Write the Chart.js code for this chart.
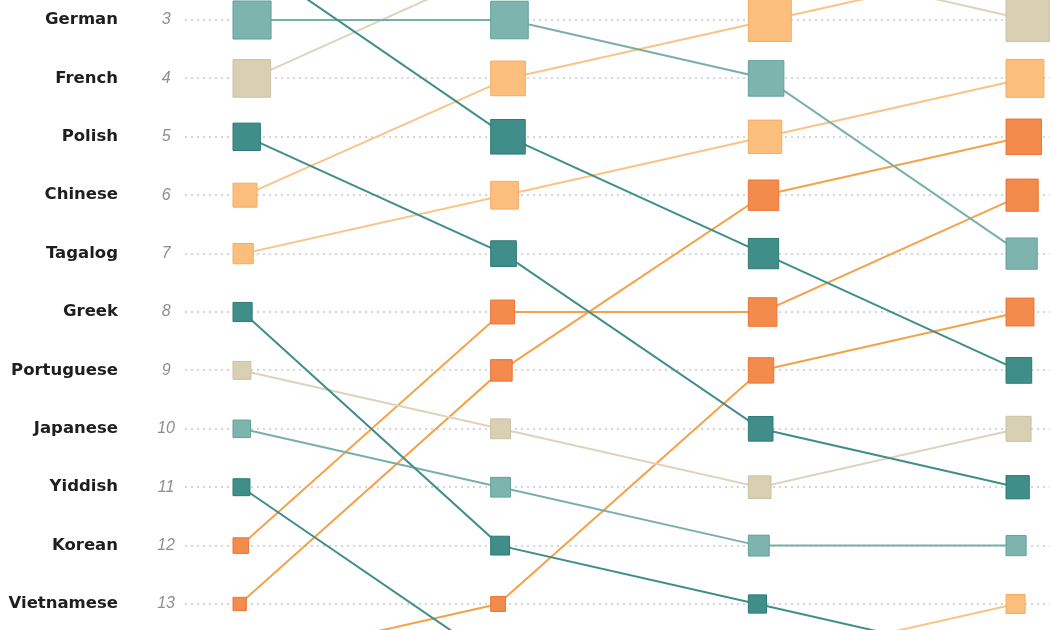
<!DOCTYPE html>
<html>
<head>
<meta charset="utf-8">
<title>Languages spoken at home - rank by census year</title>
<script src="https://cdn.jsdelivr.net/npm/chart.js@4.4.1/dist/chart.umd.min.js"></script>
<style>
    html, body { margin: 0; padding: 0; background: #fff; }
    #wrap { width: 1050px; height: 630px; }
</style>
</head>
<body>
<div id="wrap"><canvas id="chart" width="1050" height="630"></canvas></div>
<script>
// one column per census year
const years = [1980, 1990, 2000, 2010]

const languages = ['Spanish', 'Italian', 'German', 'French', 'Polish', 'Chinese', 'Tagalog', 'Greek',
    'Portuguese', 'Japanese', 'Yiddish', 'Korean', 'Vietnamese', 'Russian', 'Persian']
const family = ['beige', 'teal', 'lightTeal', 'beige', 'teal', 'gold', 'gold', 'teal',
    'beige', 'lightTeal', 'teal', 'orange', 'orange', 'orange', 'gold']

// rank of each language in each year (same order as languages)
const rank1980 = [1, 2, 3, 4, 5, 6, 7, 8, 9, 10, 11, 12, 13, 14, 15]
const rank1990 = [1, 5, 3, 2, 7, 4, 6, 12, 10, 11, 14, 8, 9, 13, 15]
const rank2000 = [1, 7, 4, 2, 10, 3, 5, 13, 11, 12, 15, 8, 6, 9, 14]
const rank2010 = [1, 9, 7, 3, 11, 2, 4, 14, 10, 12, 15, 6, 5, 8, 13]

// speakers, thousands (square area follows these)
const speakers1980 = [11116, 1618, 1587, 1551, 821, 631, 452, 401, 352, 336, 315, 266, 195, 173, 107]
const speakers1990 = [17345, 1309, 1547, 1891, 723, 1319, 843, 388, 430, 428, 213, 626, 507, 242, 202]
const speakers2000 = [28101, 1008, 1383, 2097, 667, 2022, 1224, 365, 564, 478, 178, 894, 1010, 706, 312]
const speakers2010 = [36996, 725, 1067, 2056, 594, 2809, 1573, 307, 688, 444, 154, 1137, 1381, 854, 400]

// rows shown on the left
const rankTicks = [3, 4, 5, 6, 7, 8, 9, 10, 11, 12, 13]

const rankColumns = [rank1980, rank1990, rank2000, rank2010]
const speakerColumns = [speakers1980, speakers1990, speakers2000, speakers2010]

const palette = {
    teal:      { fill: '#3f8e89', edge: '#2d7a75', line: '#3f8e89' },
    lightTeal: { fill: '#7db5ae', edge: '#62a09a', line: '#78b0a9' },
    beige:     { fill: '#d9cfb3', edge: '#ccc1a3', line: '#ddd4be' },
    gold:      { fill: '#fbbe7c', edge: '#f5ac65', line: '#f9c489' },
    orange:    { fill: '#f28b4b', edge: '#e97536', line: '#f4a34c' },
}

const squareSide = (thousands) => 0.955 * Math.sqrt(thousands)

const datasets = languages.map((name, i) => {
    const tone = palette[family[i]]
    const sides = speakerColumns.map(col => squareSide(col[i]))
    return {
        label: name,
        data: years.map((year, j) => ({ x: year, y: rankColumns[j][i] })),
        sides: sides,
        borderColor: tone.line,
        borderWidth: 2,
        tension: 0,
        pointStyle: 'rect',
        pointRadius: sides.map(s => s / Math.SQRT2),
        pointBackgroundColor: tone.fill,
        pointBorderColor: tone.edge,
        pointBorderWidth: 1,
    }
})

// squares sit with their left edge on the year, lines join their centres
const alignSquaresLeft = {
    id: 'alignSquaresLeft',
    afterDatasetUpdate: (chart, args) => {
        const sides = chart.data.datasets[args.index].sides
        args.meta.data.forEach((point, i) => {
            point.x += sides[i] / 2
        })
    }
}

const fixedWidth = (w) => (axis) => {
    axis.width = w
    axis.paddingTop = 0
    axis.paddingBottom = 0
}
const rowTicks = (axis) => {
    axis.ticks = rankTicks.map(v => ({ value: v }))
}

const ctx = document.getElementById('chart').getContext('2d')
new Chart(ctx, {
    type: 'line',
    data: { datasets: datasets },
    plugins: [alignSquaresLeft],
    options: {
        responsive: false,
        animation: false,
        events: [],
        layout: { padding: 0, autoPadding: false },
        plugins: {
            legend: { display: false },
            tooltip: { enabled: false },
        },
        scales: {
            x: {
                type: 'linear',
                display: false,
                min: 1978.137,
                max: 2011.707,
            },
            y: {
                type: 'linear',
                position: 'left',
                reverse: true,
                weight: 1,
                min: 2.6575,
                max: 13.445,
                afterBuildTicks: rowTicks,
                afterFit: fixedWidth(35),
                ticks: {
                    autoSkip: false,
                    padding: 10,
                    crossAlign: 'center',
                    color: '#8e8e8e',
                    font: { family: 'Liberation Sans', size: 16, style: 'italic' },
                },
                grid: { color: '#d6d6d6', lineWidth: 2, drawTicks: false },
                border: { display: false, dash: [2, 4] },
            },
            names: {
                type: 'linear',
                position: 'left',
                reverse: true,
                weight: 2,
                min: 2.6575,
                max: 13.445,
                afterBuildTicks: rowTicks,
                afterFit: fixedWidth(150),
                ticks: {
                    autoSkip: false,
                    padding: 32,
                    crossAlign: 'near',
                    color: '#1e1e1e',
                    font: { family: 'DejaVu Sans', size: 16.5, weight: 'bold' },
                    callback: (value) => languages[rank1980.indexOf(value)],
                },
                grid: { display: false, drawTicks: false },
                border: { display: false },
            },
        },
    },
})
</script>
</body>
</html>
